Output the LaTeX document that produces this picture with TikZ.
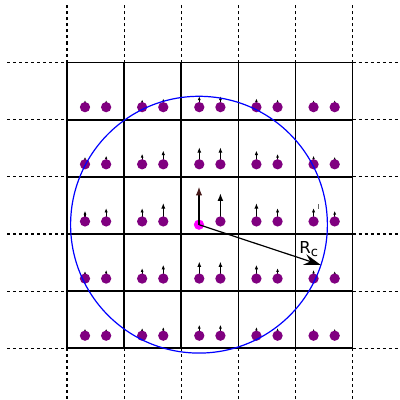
\documentclass[tikz,border=0pt]{standalone}
\usepackage{fontspec}
\setmainfont{DejaVu Sans}
\usetikzlibrary{arrows.meta}
\definecolor{dotpurple}{RGB}{128,0,128}
\definecolor{magdot}{RGB}{255,0,255}
\definecolor{headbrown}{RGB}{70,25,25}
\tikzset{
  dotline/.style={line width=0.5pt, dash pattern=on 1.5pt off 1.5pt},
  gridline/.style={line width=0.8pt},
  ring/.style={blue, line width=0.6pt},
  radiusarrow/.style={line width=0.6pt, -{Stealth[length=8.5pt,width=5.5pt,inset=3pt]}},
}
% x, y, length in px (1px = 0.0175cm = 0.5pt)
\newcommand{\fieldarrow}[3]{%
  \pgfmathsetmacro{\hl}{(0.22*#3+1.5)*0.5}%
  \pgfmathsetmacro{\hw}{0.75*\hl}%
  \pgfmathsetmacro{\lw}{ifthenelse(#3>20,0.9,0.55)}%
  \draw[line width=\lw pt, -{Latex[length=\hl pt,width=\hw pt]}] (#1,#2) -- ++(0,#3*0.0175);%
}
\newcommand{\fieldrow}[2]{%
  \foreach \L [count=\k from 0] in {#2} {%
    \pgfmathsetmacro{\xx}{int(\k/2)+ifthenelse(mod(\k,2)==0,0.315,0.685)}%
    \fieldarrow{\xx}{#1+0.22}{\L}%
  }%
}
\begin{document}
\begin{tikzpicture}
\useasboundingbox (-1.1726,-0.9048) rectangle (5.8278,6.0955);
\fill[white] (-1.1726,-0.9048) rectangle (5.8278,6.0955);
\clip (-1.1726,-0.9048) rectangle (5.8278,6.0955);
% dotted extensions
\foreach \t in {0,...,5} {
  \draw[dotline] (-1.05,\t) -- (0,\t);
  \draw[dotline] (5,\t) -- (6.2,\t);
  \draw[dotline] (\t,5) -- (\t,6);
  \draw[dotline] (\t,0) -- (\t,-1.1);
}
% solid grid
\draw[gridline] (0,0) grid (5,5);
% field arrows (purple dots)
\fieldrow{4}{7,7,7.7,8.7,11,11,8.7,7.7,7,7}
\fieldrow{3}{7.5,8.6,10.5,13.8,17,17,13.8,10.5,8.6,7.5}
\fieldrow{1}{7.5,8.6,10.5,13.8,17,17,13.8,10.5,8.6,7.5}
\fieldrow{0}{7,7,7.7,8.7,11,11,8.7,7.7,7,7}
\fieldarrow{0.315}{2.22}{10.7}
\fieldarrow{0.685}{2.22}{13.4}
\fieldarrow{1.315}{2.22}{13.4}
\fieldarrow{1.685}{2.22}{18.4}
\fieldarrow{2.685}{2.22}{28.4}
\fieldarrow{3.315}{2.22}{18.4}
\fieldarrow{3.685}{2.22}{13.4}
\fieldarrow{4.315}{2.22}{13.4}
\fieldarrow{4.685}{2.22}{10.7}
\draw[line width=0.4pt, black!60] (4.393,2.44) -- ++(0,0.08);
% purple dots
\foreach \j in {0,...,4} {
  \foreach \c in {0,...,4} {
    \ifnum\j=2 \ifnum\c=2 \else \fill[dotpurple] (\c+0.315,\j+0.22) circle (0.09); \fi
    \else \fill[dotpurple] (\c+0.315,\j+0.22) circle (0.09); \fi
    \fill[dotpurple] (\c+0.685,\j+0.22) circle (0.09);
  }
}
% central magenta dot
\coordinate (m) at (2.31,2.163);
\fill[magdot] (m) circle (0.09);
\draw[line width=0.9pt, -{Latex[length=4.5pt,width=3.2pt,color=headbrown]}] (m) -- ++(0,0.67);
% cutoff circle
\draw[ring] (m) circle (2.247);
\path (m) ++(-18.3:2.247) coordinate (rcend);
\draw[radiusarrow] (m) -- (rcend);
\node[anchor=base west, inner sep=0pt, font=\fontsize{8.2}{9}\selectfont] (rclabel) at (4.06,1.663) {R\raisebox{-0.35ex}{\fontsize{6.5}{7}\selectfont c}};
\end{tikzpicture}
\end{document}
